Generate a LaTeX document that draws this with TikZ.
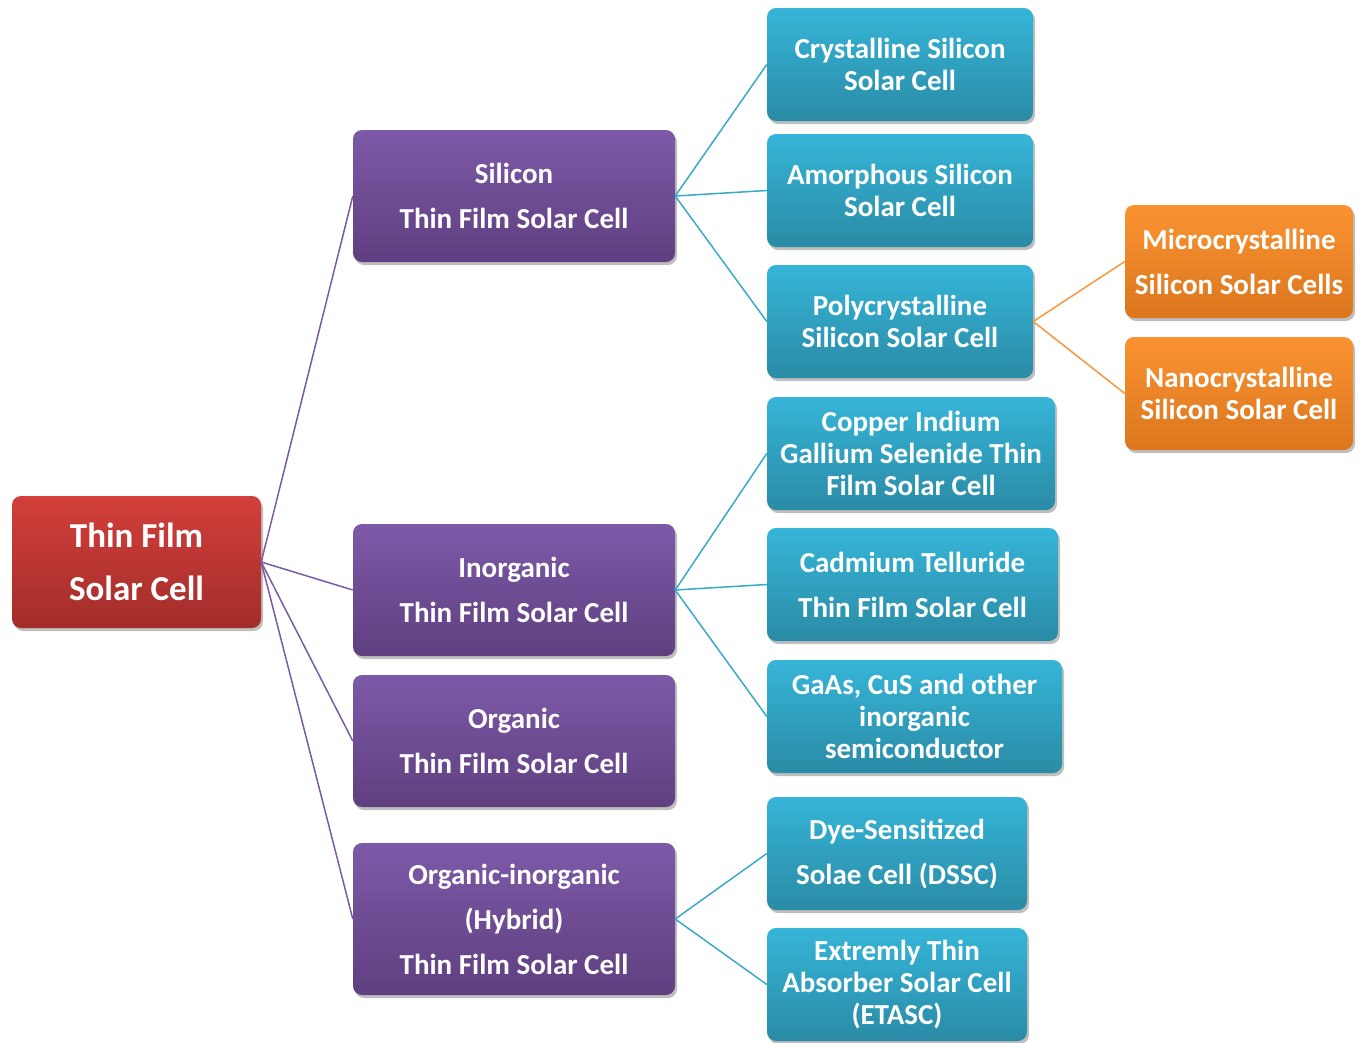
\documentclass[tikz,border=0pt]{standalone}
\usepackage{fontspec}
\setmainfont{Carlito}
\usetikzlibrary{shadows}
\definecolor{redT}{HTML}{D33F3B}
\definecolor{redB}{HTML}{A22D2A}
\definecolor{purT}{HTML}{7D5AA8}
\definecolor{purB}{HTML}{5F3F80}
\definecolor{tealT}{HTML}{36B5D8}
\definecolor{tealB}{HTML}{2A8BA5}
\definecolor{orT}{HTML}{F99331}
\definecolor{orB}{HTML}{DC761E}
\definecolor{purLine}{HTML}{7A5BA6}
\definecolor{tealLine}{HTML}{3AAAC8}
\definecolor{orLine}{HTML}{F7963A}
\tikzset{
  boxbase/.style={rectangle, rounded corners=9pt, inner sep=0pt, align=center,
    text=white, font=\bfseries\fontsize{29}{32}\selectfont,
    drop shadow={shadow xshift=2pt, shadow yshift=-3pt, opacity=0.25, fill=black}},
  rootbox/.style={boxbase, top color=redT, bottom color=redB,
    font=\bfseries\fontsize{35}{53}\selectfont},
  purbox/.style={boxbase, top color=purT, bottom color=purB,
    font=\bfseries\fontsize{29}{45}\selectfont, minimum width=322pt},
  tealbox/.style={boxbase, top color=tealT, bottom color=tealB, minimum height=113pt},
  orbox/.style={boxbase, top color=orT, bottom color=orB, minimum height=113pt, minimum width=228pt},
  wide/.style={font=\bfseries\fontsize{29}{45}\selectfont},
  purcon/.style={draw=purLine, line width=1.5pt},
  tealcon/.style={draw=tealLine, line width=1.5pt},
  orcon/.style={draw=orLine, line width=1.5pt}
}
\begin{document}
\begin{tikzpicture}[x=1pt,y=-1pt]
\useasboundingbox (0,0) rectangle (1363,1042);
% nodes
\node[rootbox, minimum width=249pt, minimum height=132pt] (root) at (136.5,562) {Thin Film\\Solar Cell};
\node[purbox, minimum height=132pt] (si) at (514,196) {Silicon\\Thin Film Solar Cell};
\node[purbox, minimum height=132pt] (inorg) at (514,590) {Inorganic\\Thin Film Solar Cell};
\node[purbox, minimum height=132pt] (org) at (514,741) {Organic\\Thin Film Solar Cell};
\node[purbox, minimum height=152pt] (hyb) at (514,919) {Organic-inorganic\\(Hybrid)\\Thin Film Solar Cell};
\node[tealbox, minimum width=266pt] (cry) at (900,64.5) {Crystalline Silicon\\Solar Cell};
\node[tealbox, minimum width=266pt] (amo) at (900,190.5) {Amorphous Silicon\\Solar Cell};
\node[tealbox, minimum width=266pt] (poly) at (900,321.5) {Polycrystalline\\Silicon Solar Cell};
\node[tealbox, minimum width=288pt] (cigs) at (911,453.5) {Copper Indium\\Gallium Selenide Thin\\Film Solar Cell};
\node[tealbox, wide, minimum width=291pt] (cdte) at (912.5,584.5) {Cadmium Telluride\\Thin Film Solar Cell};
\node[tealbox, minimum width=295pt] (gaas) at (914.5,716.5) {GaAs, CuS and other\\inorganic\\semiconductor};
\node[tealbox, wide, minimum width=260pt] (dssc) at (897,853.5) {Dye-Sensitized\\Solae Cell (DSSC)};
\node[tealbox, minimum width=260pt] (etasc) at (897,984.5) {Extremly Thin\\Absorber Solar Cell\\(ETASC)};
\node[orbox, wide] (micro) at (1239,261.5) {Microcrystalline\\Silicon Solar Cells};
\node[orbox] (nano) at (1239,393.5) {Nanocrystalline\\Silicon Solar Cell};
% connectors
\foreach \c in {si,inorg,org,hyb} \draw[purcon] (root.east) -- (\c.west);
\foreach \c in {cry,amo,poly} \draw[tealcon] (si.east) -- (\c.west);
\foreach \c in {cigs,cdte,gaas} \draw[tealcon] (inorg.east) -- (\c.west);
\foreach \c in {dssc,etasc} \draw[tealcon] (hyb.east) -- (\c.west);
\foreach \c in {micro,nano} \draw[orcon] (poly.east) -- (\c.west);
\end{tikzpicture}
\end{document}
